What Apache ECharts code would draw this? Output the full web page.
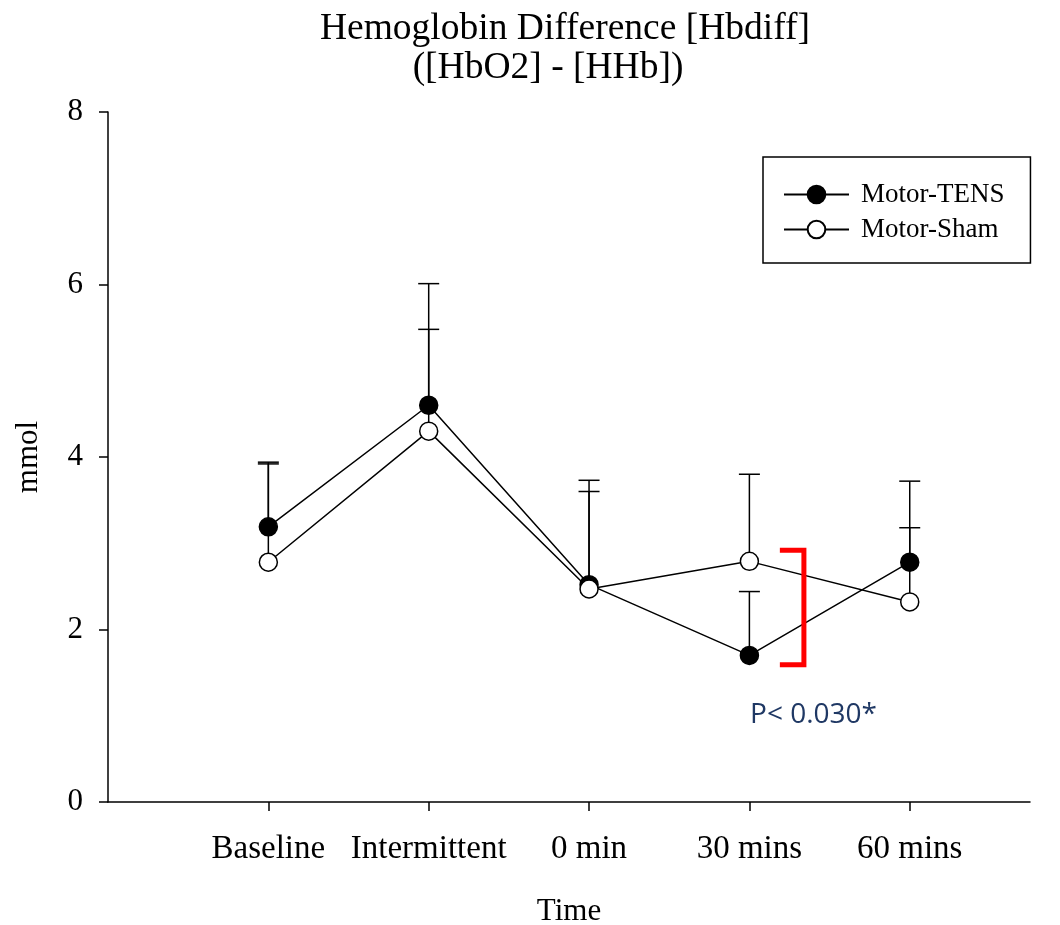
<!DOCTYPE html>
<html>
<head>
<meta charset="utf-8">
<title>Hemoglobin Difference</title>
<script src="https://cdn.jsdelivr.net/npm/echarts@6/dist/echarts.min.js"></script>
<style>
  html, body { margin: 0; padding: 0; background: #fff; }
  #chart { width: 1060px; height: 925px; }
</style>
</head>
<body>
<div id="chart"></div>
<script>
// Time points on the x axis
const timePoints = ['Baseline', 'Intermittent', '0 min', '30 mins', '60 mins'];

// Mean Hbdiff (mmol) per time point
const tensMean = [3.19, 4.60, 2.52, 1.70, 2.78];
const shamMean = [2.78, 4.30, 2.47, 2.79, 2.32];

// Upper end of each error bar (mean + SD)
const tensUpper = [3.94, 6.01, 3.73, 2.44, 3.18];
const shamUpper = [3.92, 5.48, 3.60, 3.80, 3.72];

// Significance bracket between the two groups at 30 mins, and its label
const bracketX = [3.19, 3.34];
const bracketY = [2.92, 1.59];
const pLabel = 'P< 0.030*';
const pLabelPos = [3.4, 1.01];

const yTicks = [0, 2, 4, 6, 8];

const serif = "'Liberation Serif', 'Times New Roman', serif";

const toPairs = arr => arr.map((v, i) => [i, v]);
const errData = (mean, upper) => mean.map((v, i) => [i, v, upper[i]]);

function renderErrorBar(params, api) {
  const x = api.value(0);
  const lo = api.coord([x, api.value(1)]);
  const hi = api.coord([x, api.value(2)]);
  const half = 10.5;
  const style = { stroke: '#000', lineWidth: 1.5 };
  return {
    type: 'group',
    children: [
      { type: 'line', shape: { x1: lo[0], y1: lo[1], x2: hi[0], y2: hi[1] }, style },
      { type: 'line', shape: { x1: hi[0] - half, y1: hi[1], x2: hi[0] + half, y2: hi[1] }, style }
    ]
  };
}

function renderBracket(params, api) {
  const a = api.coord([bracketX[0], bracketY[0]]);
  const b = api.coord([bracketX[1], bracketY[0]]);
  const c = api.coord([bracketX[1], bracketY[1]]);
  const d = api.coord([bracketX[0], bracketY[1]]);
  const t = api.coord(pLabelPos);
  return {
    type: 'group',
    children: [
      {
        type: 'polyline',
        shape: { points: [a, b, c, d] },
        style: { stroke: '#ff0000', lineWidth: 5, fill: null, lineJoin: 'miter' }
      },
      {
        type: 'text',
        x: t[0], y: t[1],
        style: {
          text: pLabel, fill: '#1f3864',
          font: "28px 'Open Sans', 'Noto Sans', sans-serif",
          align: 'center', verticalAlign: 'middle'
        }
      }
    ]
  };
}

const chart = echarts.init(document.getElementById('chart'), null, { renderer: 'canvas' });

chart.setOption({
  animation: false,
  backgroundColor: '#fff',
  title: [
    {
      text: 'Hemoglobin Difference [Hbdiff]',
      left: 560, top: 5, textAlign: 'center',
      textStyle: { fontFamily: serif, fontSize: 37.5, fontWeight: 'normal', color: '#000' }
    },
    {
      text: '([HbO2] - [HHb])',
      left: 543, top: 44, textAlign: 'center',
      textStyle: { fontFamily: serif, fontSize: 37.5, fontWeight: 'normal', color: '#000' }
    }
  ],
  legend: {
    orient: 'vertical',
    left: 763, top: 157,
    data: ['Motor-TENS', 'Motor-Sham'],
    borderColor: '#000', borderWidth: 1.5,
    padding: [24, 26, 20, 20],
    itemGap: 8,
    itemWidth: 65, itemHeight: 22,
    textStyle: { fontFamily: serif, fontSize: 27, color: '#000', lineHeight: 20, padding: [0, 0, 0, 7] }
  },
  grid: { left: 108, right: 30, top: 112, bottom: 123, outerBoundsMode: 'none' },
  xAxis: {
    type: 'value',
    min: -1, max: 4.75,
    name: 'Time', nameLocation: 'middle', nameGap: 94,
    nameTextStyle: { fontFamily: serif, fontSize: 31, color: '#000' },
    axisLine: { onZero: false, lineStyle: { color: '#000', width: 1.5 } },
    axisTick: { show: true, length: 9, inside: false, customValues: [0, 1, 2, 3, 4], lineStyle: { color: '#000', width: 1.5 } },
    axisLabel: {
      customValues: [0, 1, 2, 3, 4],
      margin: 31,
      fontFamily: serif, fontSize: 33, color: '#000',
      formatter: v => timePoints[Math.round(v)] || ''
    },
    splitLine: { show: false }
  },
  yAxis: {
    type: 'value',
    min: 0, max: 8, interval: 2,
    name: 'mmol', nameLocation: 'middle', nameGap: 64, nameRotate: 90,
    nameTextStyle: { fontFamily: serif, fontSize: 31, color: '#000' },
    axisLine: { show: true, onZero: false, lineStyle: { color: '#000', width: 1.5 } },
    axisTick: { show: true, length: 9, lineStyle: { color: '#000', width: 1.5 } },
    axisLabel: {
      margin: 25,
      fontFamily: serif, fontSize: 31, color: '#000',
      formatter: v => (yTicks.indexOf(v) >= 0 ? String(v) : '')
    },
    splitLine: { show: false }
  },
  series: [
    {
      type: 'custom', name: 'tens-err', z: 1,
      renderItem: renderErrorBar,
      data: errData(tensMean, tensUpper), silent: true
    },
    {
      type: 'custom', name: 'sham-err', z: 1,
      renderItem: renderErrorBar,
      data: errData(shamMean, shamUpper), silent: true
    },
    {
      type: 'line', name: 'Motor-TENS', z: 2,
      data: toPairs(tensMean),
      symbol: 'circle', symbolSize: 18,
      lineStyle: { color: '#000', width: 1.5 },
      itemStyle: { color: '#000', borderColor: '#000', borderWidth: 1.5 }
    },
    {
      type: 'line', name: 'Motor-Sham', z: 3,
      data: toPairs(shamMean),
      symbol: 'circle', symbolSize: 18,
      lineStyle: { color: '#000', width: 1.5 },
      itemStyle: { color: '#fff', borderColor: '#000', borderWidth: 1.5 }
    },
    {
      type: 'custom', name: 'bracket', z: 4,
      renderItem: renderBracket,
      data: [[0]], silent: true
    }
  ]
});
</script>
</body>
</html>
